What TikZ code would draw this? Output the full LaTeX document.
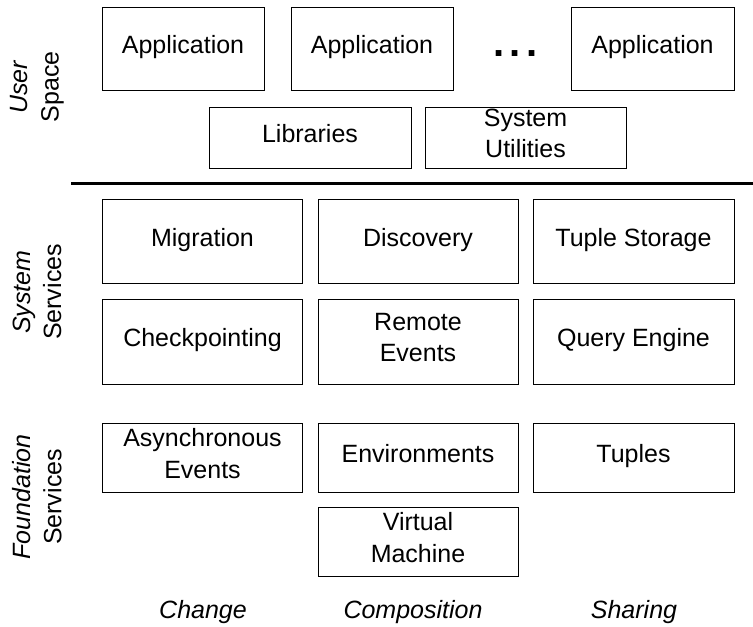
\documentclass[tikz,border=0pt]{standalone}
\usepackage{fontspec}
\setmainfont{Liberation Sans}
\usetikzlibrary{calc}

\newcommand{\blkstrut}{\rule[-8pt]{0pt}{24pt}}

\tikzset{
  blk/.style={draw=black,line width=1pt,minimum width=201pt,minimum height=84pt,
    align=center,inner sep=0pt,font=\fontsize{25}{31.5}\selectfont,
    execute at begin node=\blkstrut,execute at end node=\blkstrut},
  appblk/.style={blk,minimum width=162pt,minimum height=83pt},
  libblk/.style={blk,minimum height=61pt},
  fndblk/.style={blk,minimum height=69pt},
  sidelbl/.style={rotate=90,align=center,font=\fontsize{25}{31}\selectfont},
  axislbl/.style={anchor=base,font=\fontsize{25}{30}\selectfont\itshape}
}

\begin{document}
\begin{tikzpicture}[x=1pt,y=-1pt]
\useasboundingbox (0,0) rectangle (753,627);

% user space
\node[appblk] (app1) at (183,48.5) {Application};
\node[appblk] (app2) at (372,48.5) {Application};
\node[anchor=base,inner sep=0pt,font=\fontsize{40}{44}\selectfont\bfseries] (dots) at (515.5,56) {.\hspace{5.8pt}.\hspace{5.8pt}.};
\node[appblk,minimum width=163pt] (app3) at (652.5,48.5) {Application};
\node[libblk,minimum width=202pt] (libs) at (310,137.5) {Libraries};
\node[libblk] (utils) at (525.5,137.5) {System\\Utilities};

\coordinate (sepL) at (71,183);
\coordinate (sepR) at (753,183);
\draw[line width=3pt] (sepL) -- (sepR);

% system services
\node[blk,minimum width=200pt] (migr) at (202.5,241) {Migration};
\node[blk,minimum width=200pt] (disc) at (418,241) {Discovery};
\node[blk] (tstore) at (633.5,241) {Tuple Storage};
\node[blk,minimum width=200pt,minimum height=85pt] (ckpt) at (202.5,341.5) {Checkpointing};
\node[blk,minimum width=200pt,minimum height=85pt] (revt) at (418,341.5) {Remote\\Events};
\node[blk,minimum height=85pt] (query) at (633.5,341.5) {Query Engine};

% foundation services
\node[fndblk,minimum width=200pt] (aevt) at (202.5,457.5) {Asynchronous\\Events};
\node[fndblk,minimum width=200pt] (env) at (418,457.5) {Environments};
\node[fndblk] (tup) at (633.5,457.5) {Tuples};
\node[fndblk,minimum width=200pt] (vm) at (418,541.5) {Virtual\\Machine};

\node[sidelbl] (usr) at (37,87) {\textit{User}\\Space};
\node[sidelbl] (sys) at (37,292) {\textit{System}\\Services};
\node[sidelbl] (fnd) at (37,497) {\textit{Foundation}\\Services};

\node[axislbl] (chg) at (203,618) {Change};
\node[axislbl] (comp) at (413,618) {Composition};
\node[axislbl] (shr) at (634,618) {Sharing};

\end{tikzpicture}
\end{document}
